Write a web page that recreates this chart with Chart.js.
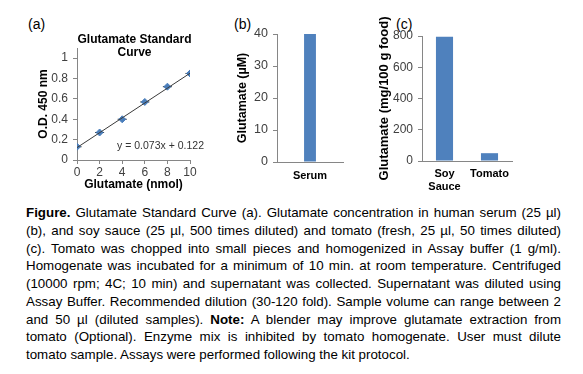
<!DOCTYPE html>
<html>
<head>
<meta charset="utf-8">
<script src="https://cdn.jsdelivr.net/npm/chart.js@4.4.1/dist/chart.umd.min.js"></script>
<style>
  body { margin: 0; width: 583px; height: 374px; background: #fff; position: relative; overflow: hidden;
         font-family: "Liberation Sans", Arial, sans-serif; }
  canvas { position: absolute; }
  .tag { position: absolute; font-size: 14px; line-height: 16px; color: #000; }
  #caption { position: absolute; left: 26px; top: 204px; width: 535px; font-size: 13.33px; line-height: 17.75px; color: #000; }
  #caption div { text-align: justify; text-align-last: justify; }
  #caption div.last { text-align: left; text-align-last: left; }
</style>
</head>
<body>
<div class="tag" style="left:28px; top:16px">(a)</div>
<div class="tag" style="left:234px; top:16px">(b)</div>
<div class="tag" style="left:396px; top:16px">(c)</div>

<canvas id="chartA" width="215" height="198" style="left:0; top:0"></canvas>
<canvas id="chartB" width="135" height="195" style="left:220px; top:0"></canvas>
<canvas id="chartC" width="160" height="198" style="left:360px; top:0"></canvas>

<div id="caption">
  <div><b>Figure.</b> Glutamate Standard Curve (a). Glutamate concentration in human serum (25 µl)</div>
  <div>(b), and soy sauce (25 µl, 500 times diluted) and tomato (fresh, 25 µl, 50 times diluted)</div>
  <div>(c). Tomato was chopped into small pieces and homogenized in Assay buffer (1 g/ml).</div>
  <div>Homogenate was incubated for a minimum of 10 min. at room temperature. Centrifuged</div>
  <div>(10000 rpm; 4C; 10 min) and supernatant was collected. Supernatant was diluted using</div>
  <div>Assay Buffer. Recommended dilution (30-120 fold). Sample volume can range between 2</div>
  <div>and 50 µl (diluted samples). <b>Note:</b> A blender may improve glutamate extraction from</div>
  <div>tomato (Optional). Enzyme mix is inhibited by tomato homogenate. User must dilute</div>
  <div class="last">tomato sample. Assays were performed following the kit protocol.</div>
</div>

<script>
// (a) standard curve
const stdAmount = [0, 2, 4, 6, 8, 10];
const stdOD = [0.13, 0.27, 0.40, 0.57, 0.72, 0.85];
const fitAmount = [0, 10];
const fitOD = [0.122, 0.852];
const amountTicks = [0, 2, 4, 6, 8, 10];
const odTicks = [0, 0.2, 0.4, 0.6, 0.8, 1];

// (b) serum
const serumLabels = ['Serum'];
const serumValues = [40];
const serumTicks = [0, 10, 20, 30, 40];

// (c) food samples
const foodLabels = [['Soy', 'Sauce'], 'Tomato'];
const foodValues = [795, 50];
const foodTicks = [0, 200, 400, 600, 800];

const FONT = '"Liberation Sans", Arial, sans-serif';
const AXIS = '#868686';
const BLUE = '#4F81BD';

Chart.defaults.font.family = FONT;
Chart.defaults.color = '#404040';
Chart.defaults.animation = false;
Chart.defaults.plugins.legend.display = false;
Chart.defaults.plugins.tooltip.enabled = false;

function fixedTicks(list) {
  return scale => { scale.ticks = list.map(v => ({ value: v })); };
}

function valueAxis(list, max, size, titleText, titleSize, titlePad, width) {
  return {
    min: 0,
    max: max,
    afterBuildTicks: fixedTicks(list),
    afterFit: s => { s.width = width; },
    grid: { drawOnChartArea: false, drawTicks: true, tickLength: 4, color: AXIS },
    border: { color: AXIS },
    ticks: { font: { size: size }, padding: 5, color: '#404040', callback: v => String(v) },
    title: { display: true, text: titleText, color: '#000',
             font: { size: titleSize, weight: 'bold' }, padding: { top: titlePad, bottom: 0 } }
  };
}

// title and equation inside the standard curve panel
const curveText = {
  id: 'curveText',
  afterDraw(chart) {
    const { ctx, chartArea } = chart;
    const cx = (chartArea.left + chartArea.right) / 2 + 1;
    ctx.save();
    ctx.fillStyle = '#000';
    ctx.textAlign = 'center';
    ctx.textBaseline = 'middle';
    ctx.font = 'bold 12px ' + FONT;
    ctx.fillText('Glutamate Standard', cx, chartArea.top - 8);
    ctx.fillText('Curve', cx, chartArea.top + 5);
    ctx.font = '10.5px ' + FONT;
    ctx.fillStyle = '#333';
    ctx.textAlign = 'left';
    ctx.fillText('y = 0.073x + 0.122', chartArea.left + 40, chartArea.bottom - 14);
    ctx.restore();
  }
};

const stdPoints = stdAmount.map((x, i) => ({ x: x, y: stdOD[i] }));

new Chart(document.getElementById('chartA'), {
  type: 'scatter',
  data: {
    datasets: [
      {
        type: 'line',
        data: fitAmount.map((x, i) => ({ x: x, y: fitOD[i] })),
        borderColor: '#3a3a3a',
        borderWidth: 1,
        pointRadius: 0
      },
      {
        data: stdPoints,
        pointStyle: 'rectRot',
        pointRadius: 3.5,
        backgroundColor: '#4A7EBB',
        borderColor: '#4A7EBB',
        borderWidth: 1
      },
      {
        // error bar caps
        data: stdPoints,
        pointStyle: 'line',
        pointRadius: 4.5,
        borderColor: '#222',
        borderWidth: 1
      }
    ]
  },
  options: {
    responsive: false,
    layout: { padding: { left: 30, right: 25, top: 48, bottom: 0 } },
    scales: {
      x: {
        type: 'linear',
        min: 0,
        max: 10,
        afterBuildTicks: fixedTicks(amountTicks),
        afterFit: s => { s.height = 38; },
        grid: { drawOnChartArea: false, drawTicks: true, tickLength: 4, color: AXIS },
        border: { color: AXIS },
        ticks: { font: { size: 12 }, padding: 1, color: '#404040' },
        title: { display: true, text: 'Glutamate (nmol)', color: '#000',
                 font: { size: 12, weight: 'bold' }, padding: { top: 0, bottom: 6 } }
      },
      y: valueAxis(odTicks, 1.1, 12, 'O.D. 450 nm', 12, 6, 47)
    }
  },
  plugins: [curveText]
});

new Chart(document.getElementById('chartB'), {
  type: 'bar',
  data: {
    labels: serumLabels,
    datasets: [{
      data: serumValues,
      backgroundColor: BLUE,
      barPercentage: 0.18,
      categoryPercentage: 1
    }]
  },
  options: {
    responsive: false,
    layout: { padding: { left: 12, right: 12, top: 34, bottom: 0 } },
    scales: {
      x: {
        afterFit: s => { s.height = 33; },
        grid: { drawOnChartArea: false, drawTicks: false, color: AXIS },
        border: { color: AXIS },
        ticks: { font: { size: 11, weight: 'bold' }, padding: 7, color: '#000' }
      },
      y: valueAxis(serumTicks, 40, 12.5, 'Glutamate (µM)', 12.5, 3, 45)
    }
  }
});

new Chart(document.getElementById('chartC'), {
  type: 'bar',
  data: {
    labels: foodLabels,
    datasets: [{
      data: foodValues,
      backgroundColor: BLUE,
      barPercentage: 0.38,
      categoryPercentage: 1
    }]
  },
  options: {
    responsive: false,
    layout: { padding: { left: 10, right: 8, top: 36, bottom: 0 } },
    scales: {
      x: {
        afterFit: s => { s.height = 37; },
        grid: { drawOnChartArea: false, drawTicks: false, color: AXIS },
        border: { color: AXIS },
        ticks: { font: { size: 11, weight: 'bold' }, padding: 6, color: '#000' }
      },
      y: valueAxis(foodTicks, 800, 12, 'Glutamate (mg/100 g food)', 13, 7, 52)
    }
  }
});
</script>
</body>
</html>
